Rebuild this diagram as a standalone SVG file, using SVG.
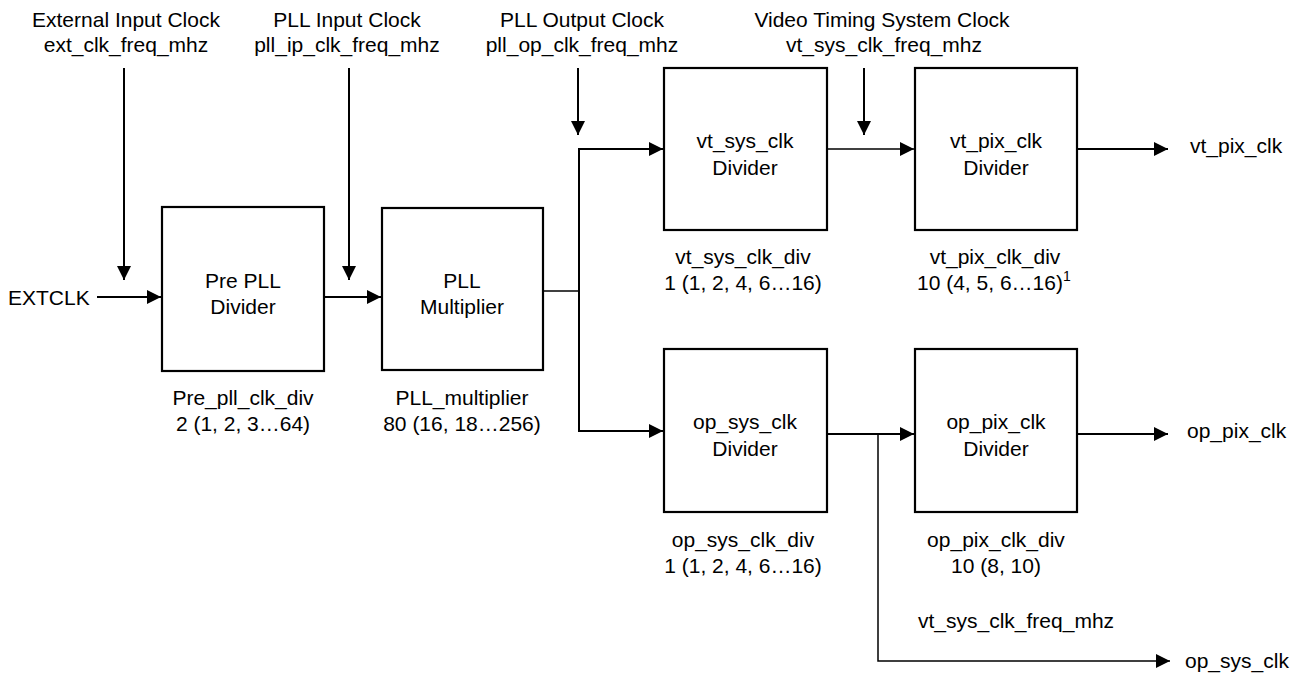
<svg xmlns="http://www.w3.org/2000/svg" width="1297" height="675" viewBox="0 0 1297 675">
<defs>
<style>
text{font-family:"Liberation Sans",Arial,sans-serif;font-size:21px;fill:#000}
.c{text-anchor:middle}
.box{fill:#fff;stroke:#000;stroke-width:2.2}
.ln{fill:none;stroke:#000;stroke-width:2}
.thin{fill:none;stroke:#000;stroke-width:1.5}
.sup{font-size:14px}
</style>
<marker id="ah" markerUnits="userSpaceOnUse" markerWidth="15" markerHeight="14" refX="14" refY="7" orient="auto">
<path d="M0,0 L14,7 L0,14 z" fill="#000"/>
</marker>
</defs>
<rect width="1297" height="675" fill="#fff"/>

<g id="labels-top">
<text class="c" x="126" y="27">External Input Clock</text>
<text class="c" x="126" y="52">ext_clk_freq_mhz</text>
<text class="c" x="347" y="27">PLL Input Clock</text>
<text class="c" x="347" y="52">pll_ip_clk_freq_mhz</text>
<text class="c" x="582" y="27">PLL Output Clock</text>
<text class="c" x="582" y="52">pll_op_clk_freq_mhz</text>
<text class="c" x="882" y="27">Video Timing System Clock</text>
<text class="c" x="884" y="52">vt_sys_clk_freq_mhz</text>
</g>

<g id="connectors">
<path class="ln" d="M124 68 V280" marker-end="url(#ah)"/>
<path class="ln" d="M349 68 V280" marker-end="url(#ah)"/>
<path class="ln" d="M578 68 V135" marker-end="url(#ah)"/>
<path class="ln" d="M864 68 V135" marker-end="url(#ah)"/>
<path class="ln" d="M97 297 H161" marker-end="url(#ah)"/>
<path class="ln" d="M324 297 H381" marker-end="url(#ah)"/>
<path class="thin" d="M543 291 H579"/>
<path class="ln" d="M579 431 V149"/>
<path class="ln" d="M578 149 H663" marker-end="url(#ah)"/>
<path class="ln" d="M578 431 H663" marker-end="url(#ah)"/>
<path class="thin" d="M827 149 H914" marker-end="url(#ah)"/>
<path class="ln" d="M1077 149 H1168" marker-end="url(#ah)"/>
<path class="ln" d="M827 434 H914" marker-end="url(#ah)"/>
<path class="ln" d="M1077 434 H1168" marker-end="url(#ah)"/>
<path class="thin" d="M878 434 V661 H1170" marker-end="url(#ah)"/>
</g>

<g id="extclk">
<text x="8" y="305">EXTCLK</text>
</g>

<g id="pre-pll-divider">
<rect class="box" x="162" y="207" width="162" height="164"/>
<text class="c" x="243" y="288">Pre PLL</text>
<text class="c" x="243" y="314">Divider</text>
<text class="c" x="243" y="405">Pre_pll_clk_div</text>
<text class="c" x="243" y="431">2 (1, 2, 3…64)</text>
</g>

<g id="pll-multiplier">
<rect class="box" x="382" y="208" width="161" height="162"/>
<text class="c" x="462" y="288">PLL</text>
<text class="c" x="462" y="314">Multiplier</text>
<text class="c" x="462" y="405">PLL_multiplier</text>
<text class="c" x="462" y="431">80 (16, 18…256)</text>
</g>

<g id="vt-sys-clk-divider">
<rect class="box" x="664" y="68" width="163" height="162"/>
<text class="c" x="745" y="148">vt_sys_clk</text>
<text class="c" x="745" y="175">Divider</text>
<text class="c" x="743" y="264">vt_sys_clk_div</text>
<text class="c" x="743" y="290">1 (1, 2, 4, 6…16)</text>
</g>

<g id="vt-pix-clk-divider">
<rect class="box" x="915" y="68" width="162" height="162"/>
<text class="c" x="996" y="148">vt_pix_clk</text>
<text class="c" x="996" y="175">Divider</text>
<text class="c" x="995" y="264">vt_pix_clk_div</text>
<text x="917" y="290">10 (4, 5, 6…16)<tspan class="sup" dy="-9">1</tspan></text>
</g>

<g id="op-sys-clk-divider">
<rect class="box" x="664" y="349" width="163" height="163"/>
<text class="c" x="745" y="429">op_sys_clk</text>
<text class="c" x="745" y="456">Divider</text>
<text class="c" x="743" y="547">op_sys_clk_div</text>
<text class="c" x="743" y="573">1 (1, 2, 4, 6…16)</text>
</g>

<g id="op-pix-clk-divider">
<rect class="box" x="915" y="349" width="162" height="163"/>
<text class="c" x="996" y="429">op_pix_clk</text>
<text class="c" x="996" y="456">Divider</text>
<text class="c" x="996" y="547">op_pix_clk_div</text>
<text class="c" x="996" y="573">10 (8, 10)</text>
</g>

<g id="outputs">
<text x="1190" y="153">vt_pix_clk</text>
<text x="1187" y="438">op_pix_clk</text>
<text x="918" y="628">vt_sys_clk_freq_mhz</text>
<text x="1185" y="668">op_sys_clk</text>
</g>
</svg>
